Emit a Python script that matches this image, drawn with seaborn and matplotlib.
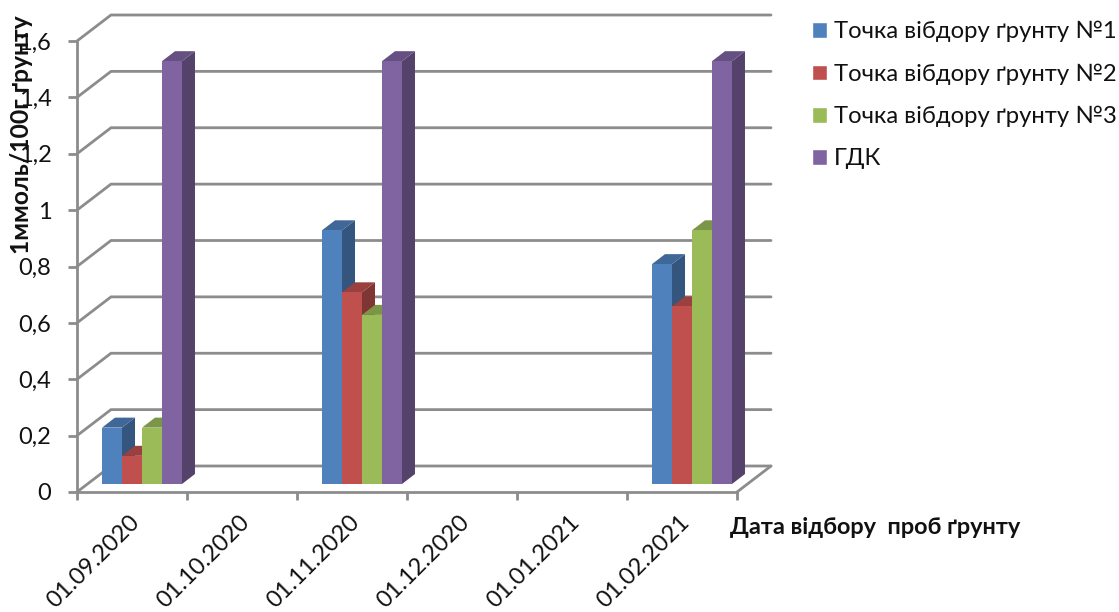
import matplotlib
matplotlib.use("Agg")
import matplotlib.pyplot as plt
import matplotlib.colors as mcolors
from matplotlib.patches import Polygon
from matplotlib.transforms import IdentityTransform, Affine2D
import numpy as np
import pandas as pd
import seaborn as sns

# Sampling dates and measured values
dates = ["01.09.2020", "01.10.2020", "01.11.2020", "01.12.2020", "01.01.2021", "01.02.2021"]
sampled_dates = ["01.09.2020", "01.11.2020", "01.02.2021"]
point_1 = [0.2, 0.9, 0.78]
point_2 = [0.1, 0.68, 0.63]
point_3 = [0.2, 0.6, 0.9]
limit = [1.5, 1.5, 1.5]
series_names = ["Точка вібдору ґрунту №1", "Точка вібдору ґрунту №2", "Точка вібдору ґрунту №3", "ГДК"]
palette = ["#4F81BD", "#C0504D", "#9BBB59", "#8064A2"]
y_ticks = [0, 0.2, 0.4, 0.6, 0.8, 1, 1.2, 1.4, 1.6]
y_tick_labels = ["0", "0,2", "0,4", "0,6", "0,8", "1", "1,2", "1,4", "1,6"]

sns.set_theme(style="white")
plt.rcParams["font.family"] = ["Lato", "Open Sans", "DejaVu Sans"]

W, H = 1119, 612
AXIS = "#8C8C8C"
TEXT = "#111111"
LINE = 2.0
fig = plt.figure(figsize=(W / 100, H / 100), dpi=100)
ax = fig.add_axes([77 / W, (H - 492) / H, 660 / W, 451 / H])

frame = pd.DataFrame({
    "date": sampled_dates * 4,
    "series": np.repeat(series_names, 3),
    "value": point_1 + point_2 + point_3 + limit,
})
sns.barplot(data=frame, x="date", y="value", hue="series", order=dates,
            hue_order=series_names, palette=palette, saturation=1,
            width=0.727, gap=0, ax=ax, legend=True)
ax.set_xlim(-0.5, 5.5)
ax.set_ylim(0, 1.6)

# Pseudo-3D offsets in pixels: back wall and the plane the bars stand on
BACK = (34, 26)
BAR_PLANE = (10, 8)
BAR_DEPTH = (13, 10)


def to_px(x, y):
    return ax.transData.transform((x, y))


def shade(color, k):
    return tuple(c * k for c in mcolors.to_rgb(color))


# Side wall and back wall gridlines
left_x, right_x = ax.get_xlim()
for y in y_ticks:
    front = to_px(left_x, y)
    back = front + BACK
    end = to_px(right_x, y) + BACK
    ax.plot([front[0], back[0], end[0]], [front[1], back[1], end[1]], color=AXIS,
            lw=LINE, transform=IdentityTransform(), clip_on=False, zorder=1,
            solid_joinstyle="miter")
corner = to_px(right_x, 0)
ax.plot([corner[0], corner[0] + BACK[0]], [corner[1], corner[1] + BACK[1]], color=AXIS,
        lw=LINE, transform=IdentityTransform(), clip_on=False, zorder=1)

# Extrude every bar: side and top faces, painted left to right
bars = sorted([p for p in ax.patches if p.get_height() > 0], key=lambda p: p.get_x())
for i, bar in enumerate(bars):
    x0, h = bar.get_x(), bar.get_height()
    color = bar.get_facecolor()
    bl = to_px(x0, 0) + BAR_PLANE
    br = to_px(x0 + bar.get_width(), 0) + BAR_PLANE
    tl = to_px(x0, h) + BAR_PLANE
    tr = to_px(x0 + bar.get_width(), h) + BAR_PLANE
    d = np.array(BAR_DEPTH)
    z = 3 + i * 0.01
    ax.add_patch(Polygon([br, tr, tr + d, br + d], closed=True, facecolor=shade(color, 0.66),
                         edgecolor="none", transform=IdentityTransform(), clip_on=False, zorder=z))
    ax.add_patch(Polygon([tl, tr, tr + d, tl + d], closed=True, facecolor=shade(color, 0.8),
                         edgecolor="none", transform=IdentityTransform(), clip_on=False, zorder=z))
    ax.add_patch(Polygon([bl, br, tr, tl], closed=True, facecolor=color,
                         edgecolor="none", transform=IdentityTransform(), clip_on=False, zorder=z + 0.001))
    bar.set_visible(False)

# Axes, ticks and labels
sns.despine(ax=ax)
for side in ("left", "bottom"):
    ax.spines[side].set_color(AXIS)
    ax.spines[side].set_linewidth(LINE)
ax.set_yticks(y_ticks, y_tick_labels)
ax.tick_params(axis="y", length=6.5, width=LINE, color=AXIS, pad=12, labelsize=17,
               left=True, labelcolor=TEXT)
ax.set_xticks(range(len(dates)), dates, rotation=45, ha="right", rotation_mode="anchor")
ax.set_xticks(np.arange(len(dates) + 1) - 0.5, minor=True)
ax.tick_params(axis="x", which="major", length=0, pad=14, labelsize=17, labelcolor=TEXT)
ax.tick_params(axis="x", which="minor", length=6, width=LINE, color=AXIS, bottom=True)
for label in ax.get_xticklabels():
    label.set_transform(label.get_transform() + Affine2D().translate(-3, 0))

ax.set_ylabel("1ммоль/100г ґрунту", fontsize=17.8, fontweight="bold", color=TEXT, va="center")
ax.yaxis.set_label_coords((22 - 77) / 660, (492 - 135) / 451)
ax.set_xlabel("Дата відбору  проб ґрунту", fontsize=16.9, fontweight="bold", color=TEXT,
              ha="left", va="center")
ax.xaxis.set_label_coords((730 - 77) / 660, (492 - 528) / 451)

handles, labels = ax.get_legend_handles_labels()
ax.legend(handles, labels, loc="upper left", bbox_to_anchor=(812 / W, 1 - 21 / H),
          bbox_transform=fig.transFigure, frameon=False, fontsize=17.2, handlelength=0.62,
          handleheight=0.62, handletextpad=0.3, labelspacing=0.88, borderpad=0, borderaxespad=0,
          labelcolor=TEXT)

fig.savefig("out.png", dpi=100, facecolor="white")
